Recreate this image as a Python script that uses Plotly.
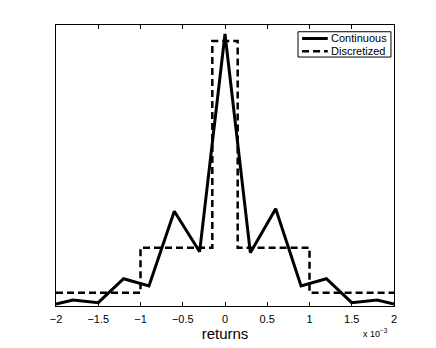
import plotly.graph_objects as go

# returns in units of 1e-3
cont_x = [-2.0, -1.8, -1.5, -1.2, -0.9, -0.6, -0.3, 0.0, 0.3, 0.6, 0.9, 1.2, 1.5, 1.8, 2.0]
cont_y = [2.0, 6.0, 3.3, 27.3, 20.0, 94.7, 54.3, 272.0, 53.3, 97.3, 20.0, 27.3, 3.3, 6.0, 2.0]

disc_x = [-2.0, -1.0, -0.15, 0.15, 1.0, 2.0]
disc_y = [13.3, 58.3, 265.0, 58.3, 13.3, 13.3]

tick_vals = [-2, -1.5, -1, -0.5, 0, 0.5, 1, 1.5, 2]
tick_text = ["\u22122", "\u22121.5", "\u22121", "\u22120.5", "0", "0.5", "1", "1.5", "2"]

fig = go.Figure()

fig.add_trace(go.Scatter(
    x=cont_x, y=cont_y, mode="lines", name="Continuous",
    line=dict(color="black", width=3), showlegend=False
))

fig.add_trace(go.Scatter(
    x=disc_x, y=disc_y, mode="lines", name="Discretized",
    line=dict(color="black", width=2.5, dash="7px,4px", shape="hv"), showlegend=False
))

# compact MATLAB-style legend box (plotly's own legend is too tall here)
legend_shapes = [
    dict(type="rect", xref="paper", yref="paper", x0=0.716, x1=0.991, y0=0.886, y1=0.976,
         line=dict(color="black", width=1), fillcolor="white", layer="above"),
    dict(type="line", xref="paper", yref="paper", x0=0.728, x1=0.804, y0=0.952, y1=0.952,
         line=dict(color="black", width=3), layer="above"),
    dict(type="line", xref="paper", yref="paper", x0=0.728, x1=0.804, y0=0.907, y1=0.907,
         line=dict(color="black", width=2.5, dash="7px,4px"), layer="above"),
]
legend_notes = [
    dict(text="Continuous", xref="paper", yref="paper", x=0.807, y=0.952,
         xanchor="left", yanchor="middle", showarrow=False, font=dict(size=11)),
    dict(text="Discretized", xref="paper", yref="paper", x=0.807, y=0.907,
         xanchor="left", yanchor="middle", showarrow=False, font=dict(size=11)),
]

# the page body adds an 8px offset, so margins are shifted to compensate
fig.update_layout(
    width=436, height=348,
    paper_bgcolor="white", plot_bgcolor="white",
    font=dict(family="Liberation Sans, Arial, sans-serif", color="black", size=11),
    margin=dict(l=48, r=50, t=17, b=50),
    showlegend=False,
    xaxis=dict(
        range=[-2, 2], tickvals=tick_vals, ticktext=tick_text,
        ticks="inside", ticklen=4, tickcolor="black", ticklabelstandoff=3,
        showline=True, linecolor="black", linewidth=1, mirror="ticks",
        showgrid=False, zeroline=False,
        title=dict(text="returns", font=dict(size=15), standoff=0)
    ),
    yaxis=dict(
        range=[0, 281], showticklabels=False, ticks="",
        showline=True, linecolor="black", linewidth=1, mirror=True,
        showgrid=False, zeroline=False
    ),
    shapes=legend_shapes,
    annotations=legend_notes + [dict(
        text="x 10<sup>\u22123</sup>", xref="paper", yref="paper",
        x=0.945, y=-0.096, xanchor="center", yanchor="middle",
        showarrow=False, font=dict(size=9)
    )]
)

fig.write_html("out.html")
